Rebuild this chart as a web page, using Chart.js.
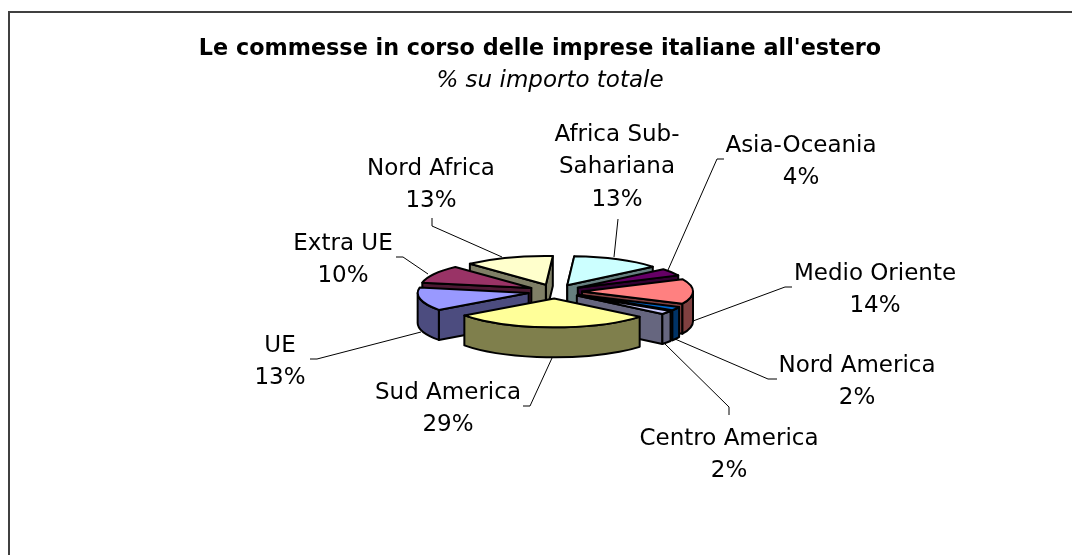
<!DOCTYPE html>
<html><head><meta charset="utf-8">
<style>html,body{margin:0;padding:0;background:#fff}canvas{display:block}</style>
<script src="https://cdn.jsdelivr.net/npm/chart.js@4"></script></head>
<body><canvas id="c" width="1072" height="555"></canvas>
<script>
const categories=['UE','Extra UE','Nord Africa','Africa Sub-Sahariana','Asia-Oceania','Medio Oriente','Nord America','Centro America','Sud America'];
const shares=[13,10,13,13,4,14,2,2,29];
const topColors=['#9999FF','#993366','#FFFFCC','#CCFFFF','#660066','#FF8080','#0066CC','#CCCCFF','#FFFF99'];
const titleText="Le commesse in corso delle imprese italiane all'estero";
const subtitleText='% su importo totale';
const labelLines=[['UE'],['Extra UE'],['Nord Africa'],['Africa Sub-','Sahariana'],['Asia-Oceania'],['Medio Oriente'],['Nord America'],['Centro America'],['Sud America']];
const labelPos=[[280,346],[343,244],[431,169],[617,135],[801,146],[875,274],[857,366],[729,439],[448,393]];
const leaders=[
 [[421,332],[317,359],[310,359]],
 [[428,274],[403,257],[396,257]],
 [[502,257],[432,226],[432,218]],
 [[614,257],[618,219]],
 [[668,270],[717,159],[724,159]],
 [[693,321],[785,287],[792,287]],
 [[675,339],[768,379],[777,379]],
 [[664,343],[729,407],[729,415]],
 [[552,358],[530,406],[523,406]]];
const SQUASH=0.26, DEPTH=30, EXPLODE=27, STROKE=2;
const FONT_FAMILY="'DejaVu Sans'";
const LABEL_FONT="23px "+FONT_FAMILY, LINE_H=32.5;
function shade(h,f){const n=parseInt(h.slice(1),16);return `rgb(${(n>>16)*f|0},${((n>>8)&255)*f|0},${(n&255)*f|0})`}
const pie3d={id:'pie3d',
 afterLayout(c){for(const b of c.boxes){if(b.options&&b.options.text===titleText){b.left-=15;b.right-=15}
   if(b.options&&b.options.text===subtitleText){b.left-=5;b.right-=5}}},
 beforeDraw(c){const x=c.ctx;x.save();x.fillStyle='#fff';x.fillRect(0,0,c.width,c.height);
   x.fillStyle='#404040';x.fillRect(8,11,c.width-8,2);x.fillRect(8,11,2,c.height-11);x.restore()},
 beforeDatasetDraw(){return false},
 afterDatasetsDraw(c){const x=c.ctx,arcs=c.getDatasetMeta(0).data;
   const items=arcs.map((a,i)=>{const m=(a.startAngle+a.endAngle)/2;return{a,i,m,cx:a.x+Math.cos(m)*EXPLODE,cy:a.y+Math.sin(m)*EXPLODE*SQUASH}});
   items.sort((p,q)=>Math.sin(p.m)-Math.sin(q.m));
   x.save();x.lineJoin='round';x.lineWidth=STROKE;x.strokeStyle='#000';
   for(const it of items){const {a,cx,cy}=it,R=a.outerRadius,col=topColors[it.i],wall=shade(col,0.5),s=a.startAngle,e=a.endAngle;
     const P=(t)=>[cx+R*Math.cos(t),cy+R*SQUASH*Math.sin(t)];
     const quad=(t)=>{const p=P(t);x.beginPath();x.moveTo(cx,cy);x.lineTo(p[0],p[1]);x.lineTo(p[0],p[1]+DEPTH);x.lineTo(cx,cy+DEPTH);x.closePath();x.fillStyle=wall;x.fill();x.stroke()};
     const edges=[[s,Math.sin(s-Math.PI/2)],[e,Math.sin(e+Math.PI/2)]].filter(v=>v[1]>-0.12).sort((p,q)=>p[1]-q[1]);
     edges.forEach(v=>quad(v[0]));
     for(const k of [-2,0,2]){const lo=Math.max(s,k*Math.PI),hi=Math.min(e,(k+1)*Math.PI);
       if(hi>lo){x.beginPath();x.ellipse(cx,cy,R,R*SQUASH,0,lo,hi);x.ellipse(cx,cy+DEPTH,R,R*SQUASH,0,hi,lo,true);x.closePath();x.fillStyle=wall;x.fill();x.stroke()}}
     x.beginPath();x.moveTo(cx,cy);x.ellipse(cx,cy,R,R*SQUASH,0,s,e);x.closePath();x.fillStyle=col;x.fill();x.stroke();
   }
   x.restore();
   x.save();x.strokeStyle='#000';x.lineWidth=1;
   leaders.forEach(l=>{x.beginPath();l.forEach((p,i)=>i?x.lineTo(p[0],p[1]):x.moveTo(p[0],p[1]));x.stroke()});
   x.fillStyle='#000';x.font=LABEL_FONT;x.textAlign='center';x.textBaseline='middle';
   const total=shares.reduce((p,q)=>p+q,0);
   categories.forEach((_,i)=>{const lines=[...labelLines[i],Math.round(shares[i]/total*100)+'%'];
     lines.forEach((t,j)=>x.fillText(t,labelPos[i][0],labelPos[i][1]+j*LINE_H))});
   x.restore();
 }};
new Chart(document.getElementById('c'),{type:'pie',
 data:{labels:categories,datasets:[{data:shares,backgroundColor:topColors,borderColor:'#000',radius:111}]},
 options:{responsive:false,animation:false,rotation:234,
  layout:{padding:{left:38,right:0,top:35.5,bottom:87}},
  plugins:{legend:{display:false},tooltip:{enabled:false},
   title:{display:true,text:titleText,color:'#000',font:{family:FONT_FAMILY,size:22.3,weight:'bold'},padding:{top:0,bottom:5}},
   subtitle:{display:true,text:subtitleText,color:'#000',font:{family:FONT_FAMILY,size:23,style:'italic',weight:'normal'},padding:{top:0,bottom:20}}}},
 plugins:[pie3d]});
</script></body></html>
